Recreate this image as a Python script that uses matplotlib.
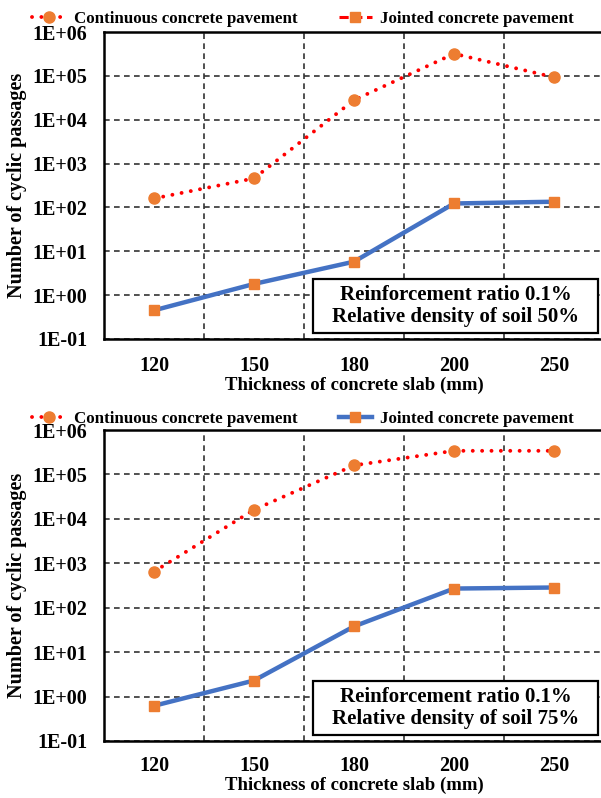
import math
import matplotlib
matplotlib.use('Agg')
import matplotlib.pyplot as plt
from matplotlib.lines import Line2D
from matplotlib.patches import Rectangle
from matplotlib.ticker import FixedLocator, FuncFormatter

thickness = ['120', '150', '180', '200', '250']

# relative density 50%
cont_50 = [160, 460, 28000, 320000, 93000]
joint_50 = [0.45, 1.8, 5.8, 123, 135]

# relative density 75%
cont_75 = [650, 16000, 160000, 340000, 340000]
joint_75 = [0.62, 2.3, 38, 270, 285]

note_50 = 'Reinforcement ratio 0.1%\nRelative density of soil 50%'
note_75 = 'Reinforcement ratio 0.1%\nRelative density of soil 75%'
legend_labels = ['Continuous concrete pavement', 'Jointed concrete pavement']

RED = '#FF0000'
ORANGE = '#ED7D31'
BLUE = '#4472C4'
GRID = '#333333'

plt.rcParams['font.family'] = ['Liberation Serif', 'DejaVu Serif']
plt.rcParams['font.weight'] = 'bold'

fig = plt.figure(figsize=(6.01, 7.98), dpi=100)
W, H = 601.0, 798.0


def make_axes(top_px, bot_px):
    return fig.add_axes([104 / W, 1 - bot_px / H, 500 / W, (bot_px - top_px) / H])


def dotted(**kw):
    return dict(color=RED, lw=2.8, dashes=(0.01, 2.4), dash_capstyle='round',
                marker='o', ms=8, mfc=ORANGE, mec=ORANGE, **kw)


def draw_panel(ax, cont, joint, note, legend_y, joint_handle, tick_pad, xlabel_gap):
    x = list(range(len(thickness)))
    ax.plot(x, cont, zorder=3, **dotted())
    ax.plot(x, joint, color=BLUE, lw=3.2, marker='s', ms=7.5,
            mfc=ORANGE, mec=ORANGE, zorder=3)
    ax.set_yscale('log')
    ax.set_ylim(0.1, 1e6)
    ax.set_xlim(-0.5, len(thickness) - 0.5)
    ax.yaxis.set_major_locator(FixedLocator([10.0 ** k for k in range(-1, 7)]))
    ax.yaxis.set_minor_locator(FixedLocator([]))
    ax.yaxis.set_major_formatter(
        FuncFormatter(lambda v, p: '1E%+03d' % round(math.log10(v))))
    ax.set_xticks(x)
    ax.set_xticklabels(thickness)
    ax.set_xticks([i + 0.5 for i in range(len(thickness) - 1)], minor=True)
    ax.grid(True, which='major', axis='y', color=GRID, ls=(0, (3.4, 2.6)), lw=1.2)
    ax.grid(True, which='minor', axis='x', color=GRID, ls=(0, (3.4, 2.6)), lw=1.2)
    ax.tick_params(axis='both', which='both', length=0)
    ax.tick_params(axis='y', pad=12, labelsize=14.5)
    ax.tick_params(axis='x', pad=tick_pad, labelsize=14.5)
    for s in ax.spines.values():
        s.set_linewidth(1.8)
        s.set_color('black')
    ax.set_axisbelow(True)
    h_ax = ax.get_position().height * H
    ax.set_xlabel('Thickness of concrete slab (mm)', fontsize=13.5,
                  fontweight='bold')
    ax.xaxis.set_label_coords(0.5, -xlabel_gap / h_ax)
    ax.set_ylabel('Number of cyclic passages', fontsize=14.5,
                  fontweight='bold', labelpad=4)
    # note box: 313..598 px wide, bottom 6 px above the x axis, 54 px tall
    ax.add_patch(Rectangle((209 / 500, 6 / h_ax), 285 / 500, 54 / h_ax,
                           transform=ax.transAxes, fc='white', ec='black',
                           lw=1.6, zorder=5, clip_on=False))
    ax.text(351.5 / 500, 33 / h_ax, note, transform=ax.transAxes,
            ha='center', va='center', fontsize=15, fontweight='bold',
            linespacing=1.15, zorder=6)
    fig.legend([Line2D([], [], **dotted()), joint_handle], legend_labels,
               loc='center left', bbox_to_anchor=(32 / W, 1 - legend_y / H),
               ncol=2, frameon=False, handlelength=1.95, handletextpad=0.5,
               columnspacing=2.45, borderaxespad=0, borderpad=0,
               prop={'family': 'Liberation Serif', 'weight': 'bold', 'size': 12.2})


ax1 = make_axes(32, 339)
h_joint_top = Line2D([], [], color=RED, lw=2.2, ls=(0, (3, 1.5)), marker='s',
                     ms=7.5, mfc=ORANGE, mec=ORANGE)
draw_panel(ax1, cont_50, joint_50, note_50, 19, h_joint_top, 12, 38)

ax2 = make_axes(430, 741)
h_joint_bot = Line2D([], [], color=BLUE, lw=3.2, marker='s', ms=7.5,
                     mfc=ORANGE, mec=ORANGE)
draw_panel(ax2, cont_75, joint_75, note_75, 419, h_joint_bot, 11, 36)

fig.savefig('out.png', dpi=100)
